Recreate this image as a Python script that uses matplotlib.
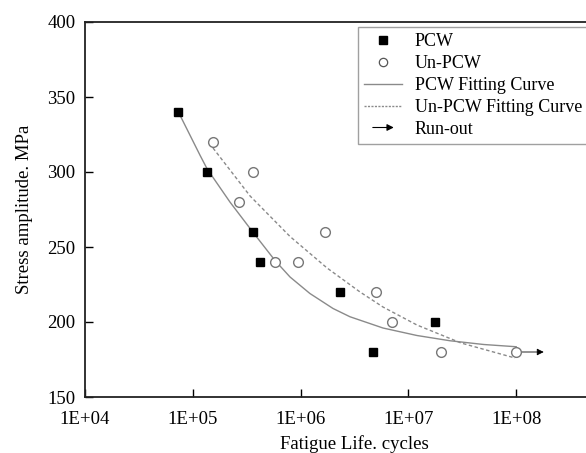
import matplotlib
matplotlib.use("Agg")
import matplotlib.pyplot as plt
from matplotlib.lines import Line2D
from matplotlib.patches import FancyArrowPatch
from matplotlib.legend_handler import HandlerBase

plt.rcParams['font.family'] = ['Liberation Serif', 'DejaVu Serif']

# measured points (cycles, MPa)
pcw_N = [7.3e4, 1.35e5, 3.6e5, 4.2e5, 2.3e6, 4.7e6, 1.78e7]
pcw_S = [340, 300, 260, 240, 220, 180, 200]

unpcw_N = [1.55e5, 2.7e5, 3.65e5, 5.8e5, 9.5e5, 1.67e6, 5.0e6, 7.1e6, 2.0e7, 1.0e8]
unpcw_S = [320, 280, 300, 240, 240, 260, 220, 200, 180, 180]

# fitting curves
pcw_fit_N = [7.35e4, 1.17e5, 1.36e5, 2.21e5, 3.6e5, 5.79e5, 7.98e5, 1.22e6,
             2.0e6, 2.87e6, 5.81e6, 1.2e7, 2.43e7, 5.0e7, 1.0e8]
pcw_fit_S = [340, 311, 302, 280, 260, 241, 230, 219, 209, 203.5, 196, 191,
             187.5, 185, 183.5]

unpcw_fit_N = [1.54e5, 3.4e5, 7.98e5, 1.76e6, 3.56e6, 5.81e6, 1.2e7, 3.08e7, 9.75e7]
unpcw_fit_S = [316, 284, 257, 236, 220, 210, 198, 186, 176]

# run-out (start, end)
runout_N = [1.0e8, 1.8e8]
runout_S = [180, 180]

xticks = [1e4, 1e5, 1e6, 1e7, 1e8]
xtick_labels = ['1E+04', '1E+05', '1E+06', '1E+07', '1E+08']
yticks = [150, 200, 250, 300, 350, 400]


class ArrowKey:
    pass


class HandlerArrow(HandlerBase):
    def create_artists(self, legend, orig_handle, xdescent, ydescent,
                       width, height, fontsize, trans):
        y = height / 2 - ydescent
        arr = FancyArrowPatch((-xdescent + width * 0.15, y), (-xdescent + width * 0.85, y),
                              arrowstyle='-|>', mutation_scale=10, color='black',
                              lw=0.8, transform=trans)
        return [arr]


fig = plt.figure(figsize=(5.86, 4.53), dpi=100)
# axes runs on to 1E+09, past the right edge of the picture
ax = fig.add_axes([85 / 586, 1 - 397 / 453, (624 - 85) / 586, (397 - 22) / 453])

ax.plot(pcw_fit_N, pcw_fit_S, color='#8a8a8a', lw=1.0, zorder=2)
ax.plot(unpcw_fit_N, unpcw_fit_S, color='#8a8a8a', lw=1.0, ls=(0, (2.5, 1.8)), zorder=2)

ax.annotate('', xy=(runout_N[1], runout_S[1]), xytext=(runout_N[0], runout_S[0]),
            arrowprops=dict(arrowstyle='-|>', color='black', lw=0.6, mutation_scale=10,
                            shrinkA=4, shrinkB=0), zorder=3)

ax.plot(pcw_N, pcw_S, ls='none', marker='s', ms=6, color='black', zorder=4)
ax.plot(unpcw_N, unpcw_S, ls='none', marker='o', ms=7, mfc='white', mec='#777777',
        mew=1.0, zorder=4)

ax.set_xscale('log')
ax.set_xlim(1e4, 1e9)
ax.set_ylim(150, 400)
ax.set_xticks(xticks)
ax.set_xticklabels(xtick_labels)
ax.set_yticks(yticks)
ax.minorticks_off()
ax.tick_params(direction='in', length=6, width=1.0, labelsize=13.5)
ax.tick_params(axis='y', pad=7)
ax.tick_params(axis='x', pad=10)

for side in ['left', 'top', 'bottom']:
    ax.spines[side].set_linewidth(1.3)
    ax.spines[side].set_color('#222222')
ax.spines['right'].set_visible(False)

ax.set_xlabel('Fatigue Life. cycles', fontsize=13.5, labelpad=5)
ax.set_ylabel('Stress amplitude. MPa', fontsize=13.5, labelpad=10)

handles = [
    Line2D([], [], ls='none', marker='s', ms=6, color='black'),
    Line2D([], [], ls='none', marker='o', ms=6, mfc='white', mec='#555555', mew=0.9),
    Line2D([], [], color='#8a8a8a', lw=1.0),
    Line2D([], [], color='#8a8a8a', lw=1.0, ls=(0, (1.5, 1.0))),
    ArrowKey(),
]
labels = ['PCW', 'Un-PCW', 'PCW Fitting Curve', 'Un-PCW Fitting Curve', 'Run-out']

leg = fig.legend(handles, labels, loc='upper left',
                 bbox_to_anchor=(358 / 586, 1 - 27 / 453), bbox_transform=fig.transFigure,
                 borderaxespad=0, fontsize=13, frameon=True, fancybox=False,
                 edgecolor='#888888', handlelength=2.1, handletextpad=0.7,
                 labelspacing=0.27, borderpad=0.35,
                 handler_map={ArrowKey: HandlerArrow()})
leg.get_frame().set_linewidth(1.0)

fig.savefig('out.png', dpi=100)
